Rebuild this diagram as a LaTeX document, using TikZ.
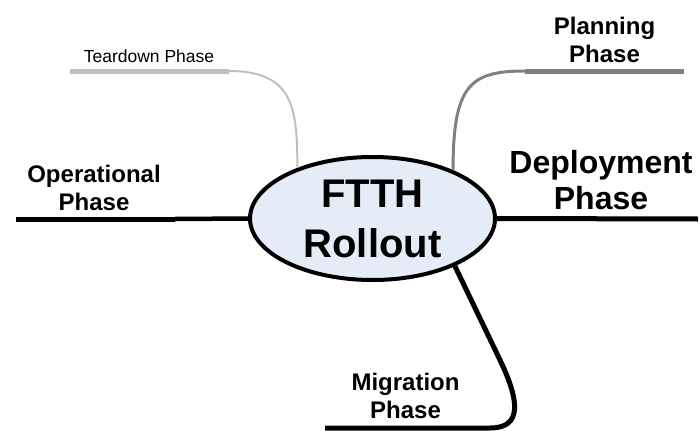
\documentclass[tikz,border=0pt]{standalone}
\usepackage{fontspec}
\setmainfont{Liberation Sans}
\usepackage{xcolor}
\usetikzlibrary{shapes.geometric}
\definecolor{rootfill}{HTML}{E6ECF7}
\definecolor{teargray}{HTML}{BFBFBF}
\definecolor{plangray}{HTML}{808080}

\begin{document}
\begin{tikzpicture}[x=1pt,y=-1pt,
        phase/.style={align=center,inner sep=0pt,font=\fontsize{24}{28}\selectfont\bfseries},
        stem/.style={line width=4.5pt},
        bar/.style={line width=5pt}]
        \useasboundingbox (0,0) rectangle (699,431);
        \node[ellipse,draw,line width=4pt,fill=rootfill,minimum width=245pt,minimum height=123pt,inner sep=0pt,align=center,font=\fontsize{40}{50}\selectfont\bfseries] (root) at (372.5,218.5) {FTTH\\Rollout};
        \coordinate (tear-l) at (70,71);
        \coordinate (tear-r) at (229,71);
        \coordinate (plan-l) at (525,71);
        \coordinate (plan-r) at (684,71);
        \coordinate (dep-r) at (698,219);
        \coordinate (op-l) at (16,219);
        \coordinate (op-r) at (175,219);
        \coordinate (mig-r) at (490,428);
        \coordinate (mig-l) at (325,428);
        \draw[-,teargray,line width=5pt] (tear-l)--(tear-r);
        \draw[-,teargray,line width=2pt] (tear-r) .. controls (295,71) and (297,110) .. (root.146);
        \draw[-,plangray,line width=5pt] (plan-l)--(plan-r);
        \draw[-,plangray,line width=3pt] (root.31.5) .. controls (453,85) and (470,71) .. (plan-l);
        \draw[-,bar] (root.east)--(dep-r);
        \draw[-,bar] (op-l)--(op-r);
        \draw[-,stem] (op-r)--(root.west);
        \draw[-,bar,line join=round] (root.330)--(500,360) .. controls (520,402) and (522,428) .. (mig-r)--(mig-l);
        \node[anchor=base,font=\fontsize{17.5}{21}\selectfont] (tear) at (149,62) {Teardown Phase};
        \node[phase] (plan) at (604.5,39.7) {Planning\\Phase};
        \node[phase,font=\fontsize{32}{36}\selectfont\bfseries] (dep) at (601,180.5) {Deployment\\Phase};
        \node[phase] (op) at (94,188) {Operational\\Phase};
        \node[phase] (mig) at (405.5,396.4) {Migration\\Phase};
\end{tikzpicture}
\end{document}
